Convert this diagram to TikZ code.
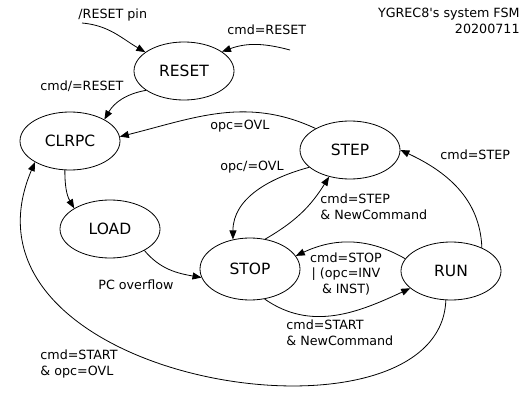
\documentclass[tikz,border=0pt]{standalone}
\usepackage{fontspec}
\setmainfont{DejaVu Sans}
\usetikzlibrary{arrows.meta,shapes.geometric}

\begin{document}
\begin{tikzpicture}[x=1pt,y=-1pt,line width=0.8pt,>={Triangle[length=9pt,width=7pt]},
  state/.style={draw,ellipse,inner sep=0pt,minimum width=100pt,minimum height=58pt,
    font=\fontsize{15.5}{18}\selectfont},
  lbl/.style={inner sep=0pt,font=\fontsize{12.7}{15.5}\selectfont}]
\useasboundingbox (0,0) rectangle (531,401);
\node[state]          (q_reset)  at (184,71)  {RESET};
\node[state]          (q_clrpc)  at (70,141)  {CLRPC};
\node[state]          (q_load)   at (110,229) {LOAD};
\node[state]          (q_step)   at (350,150) {STEP};
\node[state,minimum height=62pt] (q_stop) at (250,269) {STOP};
\node[state]          (q_run)    at (451,271) {RUN};
\coordinate (c_pin) at (82,23);
\coordinate (c_cmd) at (290,50);
\path[->]
          (c_pin)          edge [out=-5,in=150]   (q_reset.154)
          (c_cmd)          edge [out=165,in=20]   (q_reset.27)
          (q_reset.207)    edge [out=190,in=60]   (q_clrpc.32)
          (q_step.148)     edge [out=155,in=14]   (q_clrpc.5)
          (q_clrpc.-100)   edge [out=-90,in=120]  (q_load.150)
          (q_load.-32)     edge [out=-50,in=170]  (q_stop.190)
          (q_step.203)     edge [out=195,in=90]   (q_stop.120)
          (q_stop.63)      edge [out=30,in=238]   (q_step.232)
          (q_run.37)       edge [out=92,in=-25]   (q_step.0)
          (q_run.165)      edge [out=150,in=25]   (q_stop.16)
          (q_stop.-64)     edge [out=-35,in=205]  (q_run.203);
\draw[->] (q_run.-100) .. controls (440,460) and (-60,385) .. (q_clrpc.211);
% labels
\node[lbl,anchor=west] (l_pin)    at (78,15)  {/RESET pin};
\node[lbl,anchor=west] (l_rst)    at (227,30) {cmd=RESET};
\node[lbl,anchor=west] (l_nrst)   at (40,86)  {cmd/=RESET};
\node[lbl,anchor=west] (l_ovl)    at (210,126) {opc=OVL};
\node[lbl,anchor=west] (l_novl)   at (220,167) {opc/=OVL};
\node[lbl,anchor=west] (l_step)   at (440,155) {cmd=STEP};
\node[lbl,anchor=west,align=left] (l_stepnc) at (320,207) {cmd=STEP\\\& NewCommand};
\node[lbl,align=center] (l_stop)  at (346,274) {cmd=STOP\\| (opc=INV\\\& INST)};
\node[lbl,anchor=west] (l_pcovf)  at (98,285) {PC overflow};
\node[lbl,anchor=west,align=left] (l_start)  at (286,333) {cmd=START\\\& NewCommand};
\node[lbl,anchor=west,align=left] (l_startovl) at (40,364) {cmd=START\\\& opc=OVL};
\node[lbl,anchor=north east,align=right] (l_title) at (520,8) {YGREC8\textquotesingle s system FSM\\20200711};
\end{tikzpicture}
\end{document}
